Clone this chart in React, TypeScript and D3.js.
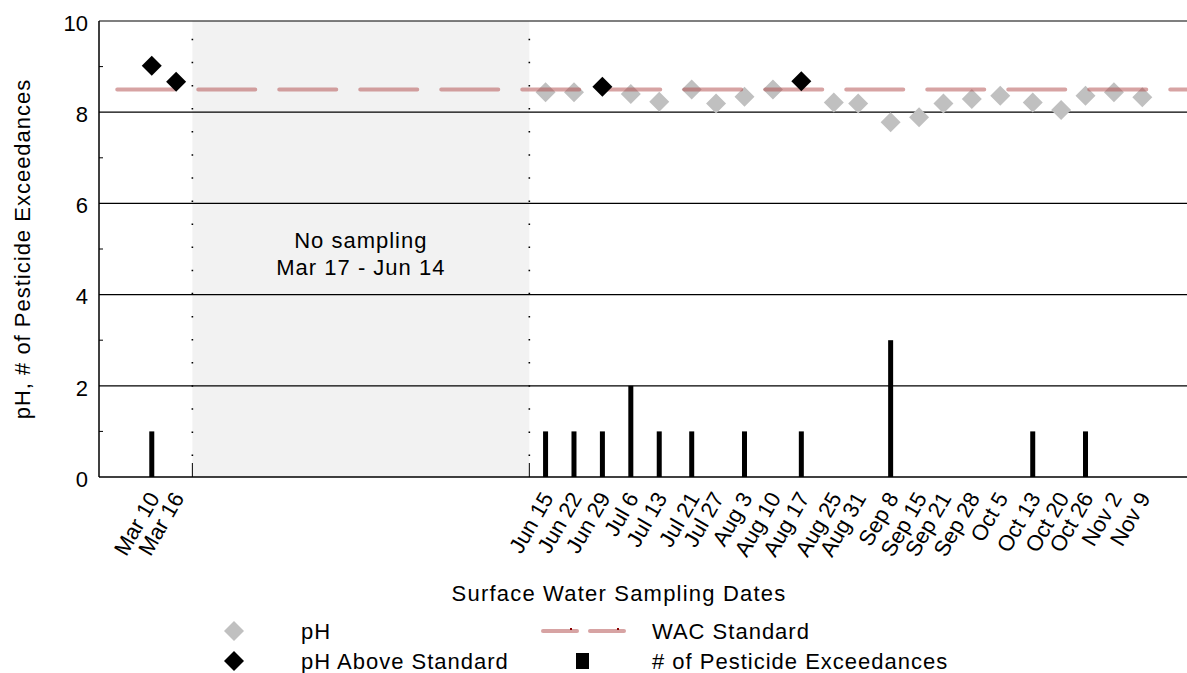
import React, { useEffect, useRef } from "react";
import * as d3 from "d3";

const sampleDates = [
  "2021-03-10", "2021-03-16", "2021-06-15", "2021-06-22", "2021-06-29", "2021-07-06",
  "2021-07-13", "2021-07-21", "2021-07-27", "2021-08-03", "2021-08-10", "2021-08-17",
  "2021-08-25", "2021-08-31", "2021-09-08", "2021-09-15", "2021-09-21", "2021-09-28",
  "2021-10-05", "2021-10-13", "2021-10-20", "2021-10-26", "2021-11-02", "2021-11-09",
];
const dateLabels = [
  "Mar 10", "Mar 16", "Jun 15", "Jun 22", "Jun 29", "Jul 6", "Jul 13", "Jul 21",
  "Jul 27", "Aug 3", "Aug 10", "Aug 17", "Aug 25", "Aug 31", "Sep 8", "Sep 15",
  "Sep 21", "Sep 28", "Oct 5", "Oct 13", "Oct 20", "Oct 26", "Nov 2", "Nov 9",
];
const phValues = [
  9.02, 8.67, 8.44, 8.44, 8.56, 8.4, 8.23, 8.5, 8.19, 8.34, 8.5, 8.68,
  8.21, 8.19, 7.78, 7.89, 8.19, 8.29, 8.36, 8.21, 8.05, 8.36, 8.44, 8.33,
];
const pesticideExceedances = [
  1, 0, 1, 1, 1, 2, 1, 1, 0, 1, 0, 1, 0, 0, 3, 0, 0, 0, 0, 1, 0, 1, 0, 0,
];
const wacStandard = 8.5;
const wacStart = "2021-03-01";
const axisStart = "2021-02-25";
const axisEnd = "2021-11-20";
const noSamplingStart = "2021-03-20";
const noSamplingEnd = "2021-06-11";
const yTicks = [0, 2, 4, 6, 8, 10];
const yMinorTicks = [1, 3, 5, 7, 9];

const font = "'Liberation Sans', Arial, sans-serif";

const App = () => {
  const svgRef = useRef<SVGSVGElement | null>(null);

  useEffect(() => {
    document.body.style.margin = "0";
    const width = 1187;
    const height = 673;
    const left = 99;
    const right = 1187;
    const top = 21;
    const bottom = 477;

    const root = d3.select(svgRef.current);
    root.selectAll("*").remove();
    const svg = root.attr("width", width).attr("height", height).style("font-family", font);

    const parse = d3.timeParse("%Y-%m-%d");
    const dates = sampleDates.map((d) => parse(d) as Date);

    const x = d3
      .scaleTime()
      .domain([parse(axisStart) as Date, parse(axisEnd) as Date])
      .range([left, right]);
    const y = d3.scaleLinear().domain([0, 10]).range([bottom, top]);

    // no sampling shade
    const s0 = x(parse(noSamplingStart) as Date);
    const s1 = x(parse(noSamplingEnd) as Date);
    svg
      .append("rect")
      .attr("x", s0)
      .attr("y", top)
      .attr("width", s1 - s0)
      .attr("height", bottom - top)
      .attr("fill", "#f2f2f2");

    [s0, s1].forEach((sx) => {
      svg
        .append("line")
        .attr("x1", sx)
        .attr("x2", sx)
        .attr("y1", bottom)
        .attr("y2", bottom - 14)
        .attr("stroke", "#000")
        .attr("stroke-width", 1);
      svg
        .append("line")
        .attr("x1", sx)
        .attr("x2", sx)
        .attr("y1", bottom - 21)
        .attr("y2", top)
        .attr("stroke", "#000")
        .attr("stroke-width", 1.6)
        .attr("stroke-dasharray", "1.5 21.6");
    });

    svg
      .append("text")
      .attr("x", (s0 + s1) / 2)
      .attr("y", 248)
      .attr("text-anchor", "middle")
      .style("font-size", "22px")
      .style("letter-spacing", "1px")
      .text("No sampling");
    svg
      .append("text")
      .attr("x", (s0 + s1) / 2)
      .attr("y", 275)
      .attr("text-anchor", "middle")
      .style("font-size", "22px")
      .style("letter-spacing", "1px")
      .text("Mar 17 - Jun 14");

    // grid lines
    svg
      .selectAll(".grid")
      .data(yTicks.filter((t) => t > 0))
      .join("line")
      .attr("x1", left)
      .attr("x2", right)
      .attr("y1", (d) => y(d))
      .attr("y2", (d) => y(d))
      .attr("stroke", "#000")
      .attr("stroke-width", 1.2);

    svg
      .selectAll(".minor")
      .data(yMinorTicks)
      .join("line")
      .attr("x1", left)
      .attr("x2", left + 4)
      .attr("y1", (d) => y(d))
      .attr("y2", (d) => y(d))
      .attr("stroke", "#000")
      .attr("stroke-width", 1);

    // axes
    svg
      .append("line")
      .attr("x1", left)
      .attr("x2", left)
      .attr("y1", top)
      .attr("y2", bottom)
      .attr("stroke", "#000")
      .attr("stroke-width", 1.5);
    svg
      .append("line")
      .attr("x1", left)
      .attr("x2", right)
      .attr("y1", bottom)
      .attr("y2", bottom)
      .attr("stroke", "#000")
      .attr("stroke-width", 1.5);

    svg
      .selectAll(".ytick")
      .data(yTicks)
      .join("text")
      .attr("x", left - 11)
      .attr("y", (d) => y(d) + 2)
      .attr("dy", "0.35em")
      .attr("text-anchor", "end")
      .style("font-size", "22px")
      .text((d) => d);

    // bars
    const barWidth = 5;
    svg
      .selectAll(".bar")
      .data(pesticideExceedances.map((v, i) => ({ v, d: dates[i] })).filter((b) => b.v > 0))
      .join("rect")
      .attr("x", (b) => x(b.d) - barWidth / 2)
      .attr("y", (b) => y(b.v))
      .attr("width", barWidth)
      .attr("height", (b) => y(0) - y(b.v))
      .attr("fill", "#000");

    const diamond = d3.symbol().type(d3.symbolSquare).size(200);
    const points = phValues.map((v, i) => ({ v, d: dates[i] }));

    svg
      .selectAll(".ph")
      .data(points.filter((p) => p.v <= wacStandard))
      .join("path")
      .attr("d", diamond)
      .attr("transform", (p) => `translate(${x(p.d)},${y(p.v)}) rotate(45)`)
      .attr("fill", "#c0c0c0");

    // WAC standard line
    svg
      .append("line")
      .attr("x1", x(parse(wacStart) as Date) + 2)
      .attr("x2", right)
      .attr("y1", y(wacStandard))
      .attr("y2", y(wacStandard))
      .attr("stroke", "#b04848")
      .attr("stroke-opacity", 0.5)
      .attr("stroke-width", 4)
      .attr("stroke-linecap", "round")
      .attr("stroke-dasharray", "57 24");

    svg
      .selectAll(".phAbove")
      .data(points.filter((p) => p.v > wacStandard))
      .join("path")
      .attr("d", diamond)
      .attr("transform", (p) => `translate(${x(p.d)},${y(p.v)}) rotate(45)`)
      .attr("fill", "#000");

    // x labels
    svg
      .selectAll(".xlabel")
      .data(dates)
      .join("text")
      .attr("transform", (d) => `translate(${x(d) + 2},${bottom + 17}) rotate(-60)`)
      .attr("dy", "0.35em")
      .attr("text-anchor", "end")
      .style("font-size", "22px")
      .text((_, i) => dateLabels[i]);

    // axis titles
    svg
      .append("text")
      .attr("x", 619)
      .attr("y", 601)
      .attr("text-anchor", "middle")
      .style("font-size", "22px")
      .style("letter-spacing", "1.2px")
      .text("Surface Water Sampling Dates");
    svg
      .append("text")
      .attr("transform", `translate(22,${(top + bottom) / 2}) rotate(-90)`)
      .attr("dy", "0.35em")
      .attr("text-anchor", "middle")
      .style("font-size", "22px")
      .style("letter-spacing", "1px")
      .text("pH, # of Pesticide Exceedances");

    // legend
    const legend = svg.append("g");
    const row1 = 631;
    const row2 = 661;
    legend
      .append("path")
      .attr("d", diamond)
      .attr("transform", `translate(234,${row1}) rotate(45)`)
      .attr("fill", "#c0c0c0");
    legend
      .append("path")
      .attr("d", diamond)
      .attr("transform", `translate(234,${row2}) rotate(45)`)
      .attr("fill", "#000");
    [
      { t: "pH", x: 301, y: row1 },
      { t: "pH Above Standard", x: 301, y: row2 },
      { t: "WAC Standard", x: 652, y: row1 },
      { t: "# of Pesticide Exceedances", x: 652, y: row2 },
    ].forEach((l) => {
      legend
        .append("text")
        .attr("x", l.x)
        .attr("y", l.y)
        .attr("dy", "0.35em")
        .style("font-size", "22px")
        .style("letter-spacing", "1px")
        .text(l.t);
    });
    [543, 590].forEach((lx) => {
      legend
        .append("line")
        .attr("x1", lx)
        .attr("x2", lx + 34)
        .attr("y1", row1)
        .attr("y2", row1)
        .attr("stroke", "#b04848")
        .attr("stroke-opacity", 0.5)
        .attr("stroke-width", 4)
        .attr("stroke-linecap", "round");
      legend
        .append("rect")
        .attr("x", lx + 27)
        .attr("y", row1 - 3)
        .attr("width", 2)
        .attr("height", 2)
        .attr("fill", "#8b0000");
    });
    legend
      .append("rect")
      .attr("x", 576)
      .attr("y", row2 - 8)
      .attr("width", 13)
      .attr("height", 16)
      .attr("fill", "#000");
  }, []);

  return <svg ref={svgRef}></svg>;
};

export default App;
